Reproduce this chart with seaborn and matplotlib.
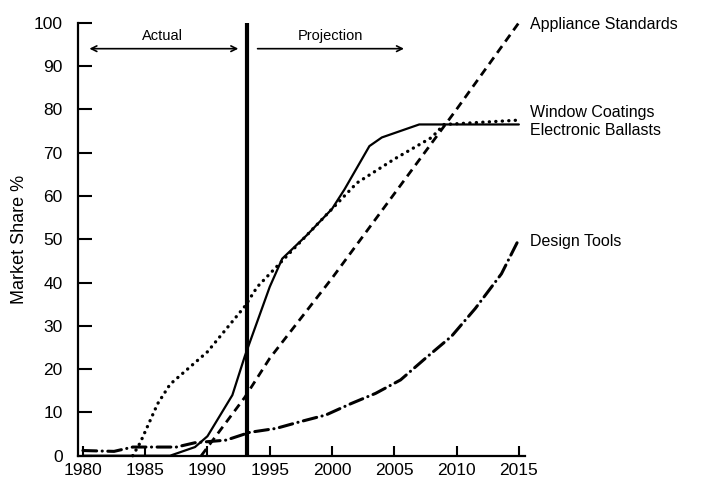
import pandas as pd
import matplotlib.pyplot as plt
import seaborn as sns

# Data
years_ballasts = [1980, 1987, 1989, 1990, 1992, 1993, 1995, 1996, 1998, 2000, 2001, 2002, 2003, 2004, 2005, 2007, 2015]
ballasts = [0, 0, 2, 4.5, 14, 23, 39, 45.5, 51, 57, 61.5, 66.5, 71.5, 73.5, 74.5, 76.5, 76.5]

years_coatings = [1984, 1984.6, 1986, 1987, 1989, 1990, 1991, 1993, 1994, 1996, 1998, 2000, 2002, 2005, 2008, 2009, 2015]
coatings = [0, 3, 12, 16.5, 21.5, 24, 27.5, 34.5, 39, 45, 51, 57, 63, 68.5, 73.5, 76.5, 77.5]

years_appliance = [1989.5, 1993, 1995, 2000, 2005, 2010, 2015]
appliance = [0, 13.5, 22.5, 41, 60.5, 80, 100]

years_design = [1980, 1982.5, 1984, 1987.5, 1989, 1991.5, 1993.4, 1995.5, 1997.5, 1999.5, 2001.5, 2003.5, 2005.5, 2007.5, 2009.6, 2011.5, 2013.6, 2015]
design = [1.2, 1, 2, 2, 3, 3.6, 5.4, 6.3, 7.9, 9.4, 12, 14.4, 17.5, 22.5, 27.6, 34, 42, 50]

label_names = ["Appliance Standards", "Window Coatings", "Electronic Ballasts", "Design Tools"]
label_y = [99.5, 79.2, 75.2, 49.5]

sns.set_style("ticks")
plt.rcParams["font.family"] = ["Liberation Sans", "DejaVu Sans"]
plt.rcParams["text.color"] = "black"
plt.rcParams["axes.labelcolor"] = "black"
plt.rcParams["xtick.color"] = "black"
plt.rcParams["ytick.color"] = "black"
plt.rcParams["axes.edgecolor"] = "black"

fig = plt.figure(figsize=(7.02, 4.83), dpi=100)
ax = fig.add_axes([0.111, 0.0565, 0.637, 0.8965])

sns.lineplot(x=years_ballasts, y=ballasts, ax=ax, color="black", linewidth=1.6,
             linestyle="-", clip_on=False)
sns.lineplot(x=years_coatings, y=coatings, ax=ax, color="black", linewidth=2.4,
             linestyle=(0, (0.05, 1.9)), dash_capstyle="round", clip_on=False)
sns.lineplot(x=years_appliance, y=appliance, ax=ax, color="black", linewidth=2,
             linestyle=(0, (3, 2)), clip_on=False)
sns.lineplot(x=years_design, y=design, ax=ax, color="black", linewidth=2.2,
             linestyle=(0, (4.5, 1.8, 0.05, 1.8)), dash_capstyle="round", clip_on=False)

# Actual / projection divider
ax.plot([1993.2, 1993.2], [0, 100], color="black", linewidth=3, solid_capstyle="butt")

ax.annotate("", xy=(1980.3, 94), xytext=(1992.7, 94),
            arrowprops=dict(arrowstyle="<->", color="black", lw=1.2))
ax.annotate("", xy=(2006, 94), xytext=(1993.8, 94),
            arrowprops=dict(arrowstyle="->", color="black", lw=1.2))
ax.text(1986.4, 95.3, "Actual", ha="center", va="bottom", fontsize=10.5)
ax.text(1999.9, 95.3, "Projection", ha="center", va="bottom", fontsize=10.5)

for name, yv in zip(label_names, label_y):
    ax.text(2015.9, yv, name, ha="left", va="center", fontsize=11.5)

ax.set_xlim(1979.6, 2015.5)
ax.set_ylim(0, 100)
ax.set_xticks([1980, 1985, 1990, 1995, 2000, 2005, 2010, 2015])
ax.set_yticks(range(0, 101, 10))
ax.tick_params(axis="y", direction="in", length=10, width=1.5, pad=11, labelsize=12.5)
ax.tick_params(axis="x", direction="in", length=7, width=1.5, pad=5, labelsize=12.5)
ax.set_ylabel("Market Share %", fontsize=13, labelpad=4)
ax.set_xlabel("")

sns.despine(ax=ax)
for s in ["left", "bottom"]:
    ax.spines[s].set_linewidth(1.6)

plt.savefig("out.png", dpi=100)
